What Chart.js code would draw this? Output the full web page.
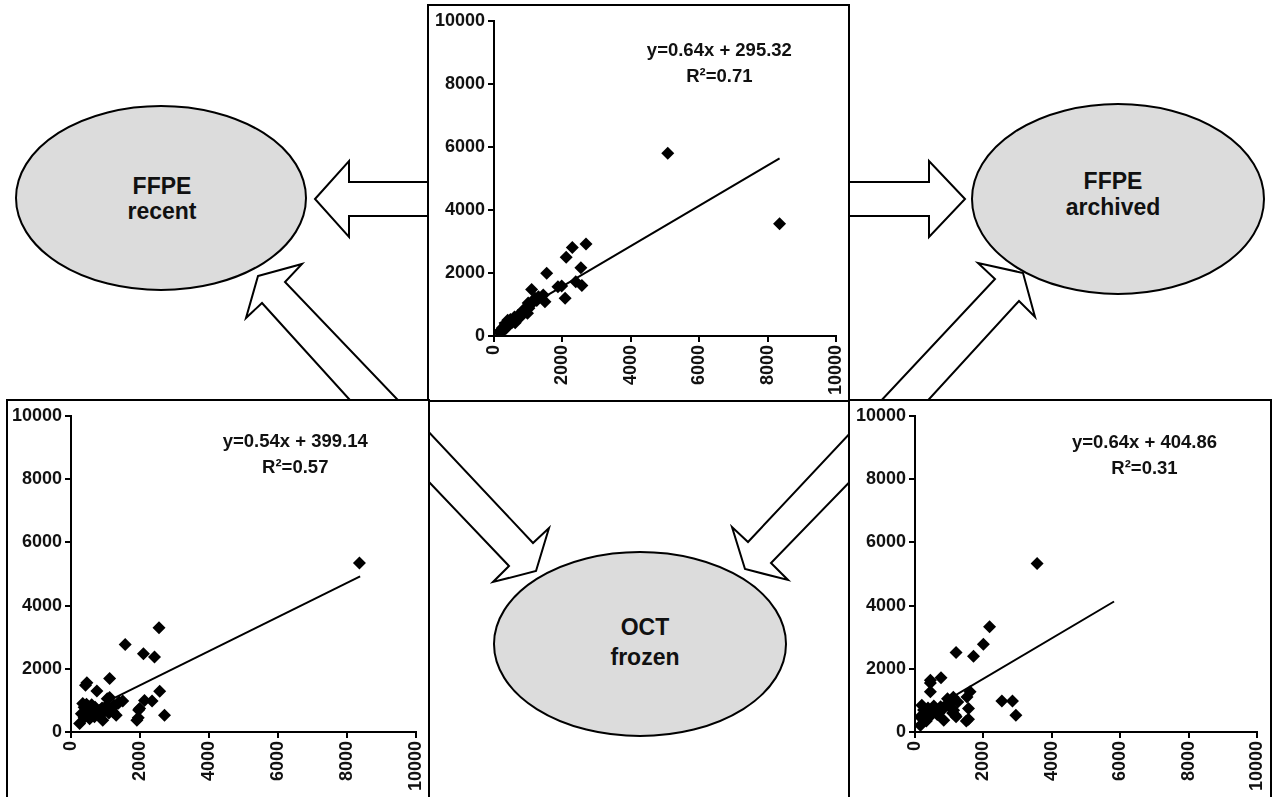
<!DOCTYPE html>
<html>
<head>
<meta charset="utf-8">
<script src="https://cdn.jsdelivr.net/npm/chart.js@4.4.0/dist/chart.umd.min.js"></script>
<style>
  html, body { margin: 0; padding: 0; background: #fff; overflow: hidden; }
  body { width: 1273px; height: 797px; position: relative; }
  #diagram { position: absolute; left: 0; top: 0; z-index: 0; }
  .box { position: absolute; border: 2px solid #000; background: #fff; box-sizing: border-box; z-index: 1; }
  .box .plot { position: absolute; left: 0; top: 0; right: 0; bottom: 0; }
</style>
</head>
<body>

<svg id="diagram" width="1273" height="797" font-family="'Liberation Sans', Arial, sans-serif" font-weight="bold" font-size="23">
  <!-- block arrows between the sample types -->
  <g fill="#fff" stroke="#000" stroke-width="2" stroke-linejoin="miter">
    <polygon points="315,199 349,161 349,182 435,182 435,216 349,216 349,237"/>
    <polygon points="965,199 929,161 929,182 840,182 840,216 929,216 929,237"/>
    <polygon points="258,276 302,264 285,282 417,420 368,420 262,303 246,318"/>
    <polygon points="1023,273 978,263 995,279 863,420 910,420 1019,301 1035,317"/>
    <polygon points="536,571 549,528 533,543 410,412 410,462 509,566 493,582"/>
    <polygon points="745,569 732,527 748,542 868,414 868,463 771,563 788,580"/>
  </g>
  <!-- sample type bubbles -->
  <g fill="#dcdcdc" stroke="#000" stroke-width="2">
    <ellipse cx="161" cy="198" rx="145" ry="92"/>
    <ellipse cx="1118" cy="199" rx="146" ry="95"/>
    <ellipse cx="640" cy="644" rx="146" ry="92"/>
  </g>
  <g fill="#111" text-anchor="middle">
    <text x="162" y="194">FFPE</text>
    <text x="162" y="219">recent</text>
    <text x="1113" y="189">FFPE</text>
    <text x="1113" y="215">archived</text>
    <text x="645" y="635">OCT</text>
    <text x="645" y="665">frozen</text>
  </g>
</svg>

<div class="box" style="left:427px; top:4px; width:423px; height:398px;">
  <div class="plot"><canvas id="chartTop"></canvas></div>
</div>
<div class="box" style="left:6px; top:399px; width:424px; height:420px;">
  <div class="plot"><canvas id="chartLeft"></canvas></div>
</div>
<div class="box" style="left:848px; top:399px; width:424px; height:420px;">
  <div class="plot"><canvas id="chartRight"></canvas></div>
</div>

<script>
// shared axis ticks
const axisTicks = [0, 2000, 4000, 6000, 8000, 10000];

// top panel
const topX = [5080, 8350, 2690, 2290, 2110, 2540, 1540, 2390, 2570, 1870, 1980, 2080, 1100, 1440, 1490,
  1200, 1150, 1050, 1000, 950, 1020, 900, 850, 800, 750, 700, 650, 600, 560, 520, 480, 450, 420, 380,
  330, 300, 250, 200, 150, 1300, 1250, 980, 620, 400, 350];
const topY = [5800, 3560, 2920, 2810, 2500, 2170, 1990, 1720, 1600, 1560, 1590, 1200, 1480, 1300, 1090,
  1200, 1080, 980, 1050, 900, 880, 760, 820, 700, 580, 650, 550, 600, 480, 420, 520, 380, 450, 300,
  350, 200, 260, 180, 120, 1250, 1130, 720, 420, 500, 250];
const topFit = [0.64, 295.32];
const topFitRange = [150, 8350];
const topR2 = 0.71;

// bottom left panel
const leftX = [8360, 2550, 1570, 2100, 2420, 460, 420, 1120, 750, 2570, 2130, 2350, 1500, 1360, 1120,
  1990, 1960, 2710, 1910, 1950, 1310, 1220, 920, 250, 340, 380, 420, 500, 540, 600, 630, 680, 700,
  800, 850, 900, 1000, 1050, 1100, 300, 450, 560, 380, 1250, 1400, 1050];
const leftY = [5350, 3300, 2770, 2480, 2370, 1560, 1480, 1690, 1300, 1290, 1000, 980, 980, 900, 1090,
  740, 700, 530, 370, 450, 530, 630, 370, 270, 900, 780, 650, 720, 420, 860, 630, 480, 780,
  650, 520, 760, 700, 820, 600, 580, 880, 560, 450, 850, 950, 1050];
const leftFit = [0.54, 399.14];
const leftFitRange = [250, 8380];
const leftR2 = 0.57;

// bottom right panel
const rightX = [3570, 2180, 2000, 1200, 1710, 760, 450, 450, 450, 1610, 2540, 2850, 2950, 1520, 1120,
  1565, 1565, 1500, 1180, 1130, 840, 160, 200, 150, 600, 700, 500, 850, 750, 1000, 1050, 300, 950,
  250, 380, 550, 650, 420, 1250, 1100, 330, 1200];
const rightY = [5330, 3330, 2780, 2515, 2400, 1720, 1640, 1550, 1270, 1270, 980, 980, 530, 1110, 1100,
  740, 400, 350, 530, 690, 370, 210, 850, 480, 700, 600, 560, 760, 800, 900, 750, 620, 1050,
  700, 760, 820, 550, 520, 950, 600, 350, 480];
const rightFit = [0.64, 404.86];
const rightFitRange = [150, 5820];
const rightR2 = 0.31;

const FONT = "'Liberation Sans', Arial, Helvetica, sans-serif";

// writes the regression equation and R² into the plot
const fitLabel = {
  id: 'fitLabel',
  afterDatasetsDraw(chart, args, opts) {
    const { ctx, scales } = chart;
    const x = scales.x.getPixelForValue(opts.x);
    ctx.save();
    ctx.fillStyle = '#111';
    ctx.font = 'bold 18.5px ' + FONT;
    ctx.textAlign = 'center';
    ctx.textBaseline = 'alphabetic';
    ctx.fillText(opts.line1, x, scales.y.getPixelForValue(opts.y1));
    ctx.fillText(opts.line2, x, scales.y.getPixelForValue(opts.y2));
    ctx.restore();
  }
};

function makePanel(id, xs, ys, fit, range, r2, yWidth, pad, note) {
  const pts = xs.map((v, i) => ({ x: v, y: ys[i] }));
  const line = range.map(v => ({ x: v, y: fit[0] * v + fit[1] }));
  const axis = (isX) => ({
    type: 'linear',
    min: 0,
    max: 10000,
    afterBuildTicks: a => { a.ticks = axisTicks.map(v => ({ value: v })); },
    afterFit: a => {
      if (isX) a.height = 64; else a.width = yWidth;
      // keep the plot area fixed; the outer padding is set by layout.padding
      a.paddingLeft = a.paddingRight = a.paddingTop = a.paddingBottom = 0;
    },
    border: { display: true, color: '#000', width: 2 },
    grid: { drawOnChartArea: false, drawTicks: true, tickLength: 6, color: '#000', lineWidth: 2 },
    ticks: {
      color: '#111',
      padding: 3,
      font: { family: FONT, size: 18, weight: 'bold' },
      minRotation: isX ? 90 : 0,
      maxRotation: isX ? 90 : 0,
      autoSkip: false,
      callback: v => String(v)
    }
  });
  return new Chart(document.getElementById(id), {
    type: 'scatter',
    data: {
      datasets: [
        {
          data: pts,
          pointStyle: 'rectRot',
          pointRadius: 6.5,
          pointBackgroundColor: '#000',
          pointBorderColor: '#000',
          pointBorderWidth: 0
        },
        {
          type: 'line',
          data: line,
          borderColor: '#000',
          borderWidth: 2,
          pointRadius: 0,
          fill: false
        }
      ]
    },
    options: {
      responsive: true,
      maintainAspectRatio: false,
      animation: false,
      layout: { padding: pad },
      scales: { x: axis(true), y: axis(false) },
      plugins: {
        legend: { display: false },
        tooltip: { enabled: false },
        fitLabel: {
          x: note[0], y1: note[1], y2: note[2],
          line1: 'y=' + fit[0].toFixed(2) + 'x + ' + fit[1].toFixed(2),
          line2: 'R²=' + r2.toFixed(2)
        }
      }
    },
    plugins: [fitLabel]
  });
}

makePanel('chartTop', topX, topY, topFit, topFitRange, topR2, 65,
  { left: 0, right: 12, top: 15, bottom: 0 }, [6590, 8890, 8060]);
makePanel('chartLeft', leftX, leftY, leftFit, leftFitRange, leftR2, 63,
  { left: 0, right: 12, top: 15, bottom: 21 }, [6500, 9020, 8200]);
makePanel('chartRight', rightX, rightY, rightFit, rightFitRange, rightR2, 65,
  { left: 0, right: 13, top: 15, bottom: 21 }, [6710, 8980, 8150]);
</script>
</body>
</html>
